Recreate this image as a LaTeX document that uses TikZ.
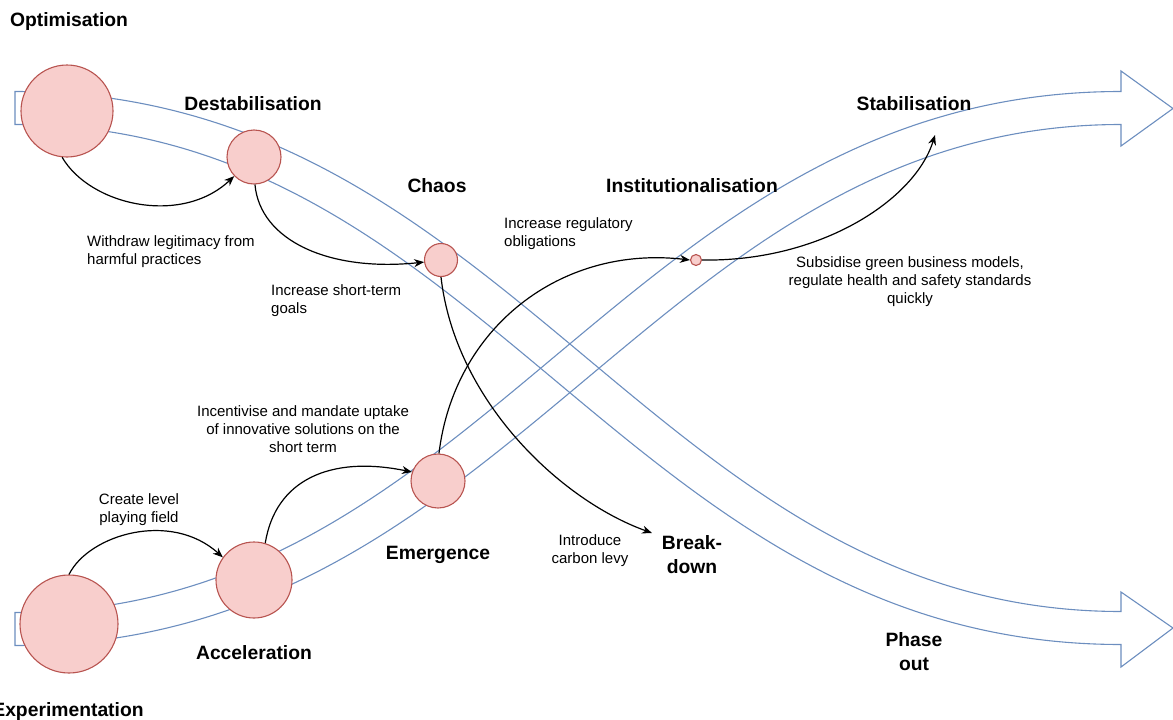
\documentclass[tikz,border=0pt]{standalone}
\usepackage{fontspec}
\setmainfont{Liberation Sans}
\usetikzlibrary{arrows.meta}
\definecolor{bandblue}{HTML}{6C8EBF}
\definecolor{circfill}{HTML}{F8CECC}
\definecolor{circdraw}{HTML}{B85450}
\begin{document}
\begin{tikzpicture}[x=1pt,y=-1pt,
  band/.style={draw=bandblue, line width=1.1pt, line join=miter},
  phase/.style={circle, draw=circdraw, fill=circfill, line width=1.1pt, inner sep=0pt},
  conn/.style={draw=black, line width=1.2pt, -{Stealth[length=10pt,width=8pt]}},
  lab/.style={font=\fontsize{15}{18}\selectfont, inner sep=0pt},
  head/.style={font=\fontsize{19.3}{24}\selectfont\bfseries, inner sep=0pt, align=center}]
\useasboundingbox (0,0) rectangle (1173,720);

% band: Optimisation -> Phase out
\draw[band] (15,91.5) .. controls (512.6,91.5) and (652.6,611.5) .. (1121,611.5)
  -- (1121,592) -- (1173,628) -- (1121,667) -- (1121,644.5)
  .. controls (627.4,644.5) and (487.4,124.5) .. (15,124.5) -- cycle;
% band: Experimentation -> Stabilisation
\draw[band] (15,612.5) .. controls (487.4,612.5) and (627.4,91.5) .. (1121,91.5)
  -- (1121,71) -- (1173,108.5) -- (1121,146) -- (1121,124.5)
  .. controls (652.6,124.5) and (512.6,645.5) .. (15,645.5) -- cycle;

% phase circles
\node[phase, minimum size=92pt] (opt) at (67,111) {};
\node[phase, minimum size=54pt] (destab) at (254,157) {};
\node[phase, minimum size=33pt] (chaos) at (441,260) {};
\node[phase, minimum size=98pt] (exper) at (69,624) {};
\node[phase, minimum size=76pt] (accel) at (254,580) {};
\node[phase, minimum size=54pt] (emerg) at (438,481) {};
\node[phase, minimum size=11pt] (inst) at (696,260) {};

% headings
\node[head] (hopt) at (69,22) {Optimisation};
\node[head] (hdestab) at (253,103.5) {Destabilisation};
\node[head] (hchaos) at (437,185.5) {Chaos};
\node[head] (hinst) at (692,185.5) {Institutionalisation};
\node[head] (hstab) at (914,103.5) {Stabilisation};
\node[head] (hemerg) at (438,555) {Emergence};
\node[head] (haccel) at (254,652.5) {Acceleration};
\node[head] (hexper) at (68,711.5) {Experimentation};
\node[head] (hbreak) at (692,554.5) {Break-\\down};
\node[head] (hphase) at (914,651.5) {Phase\\out};

\coordinate (bdin) at (652,533);
\coordinate (stin) at (935,135);

% connectors
\draw[conn] (opt.-96) .. controls +(28,48) and +(-53,50) .. (destab.224);
\draw[conn] (destab.-88) .. controls +(5,56) and +(-95,10) .. (chaos.187);
\draw[conn] (chaos.-90) .. controls +(14,123) and +(-92,-33) .. (bdin);
\draw[conn] (exper.90) .. controls +(20,-40) and +(-52,-47) .. (accel.144);
\draw[conn] (accel.73) .. controls +(10,-63) and +(-82,-17) .. (emerg.161);
\draw[conn] (emerg.88) .. controls +(15,-125) and +(-130,-15) .. (inst.180);
\draw[conn] (inst.0) .. controls +(118,2) and +(-20,65) .. (stin);

% labels
\node[lab, anchor=west, align=left] (lwithdraw) at (87,252) {Withdraw legitimacy from\\harmful practices};
\node[lab, anchor=west, align=left] (lshort) at (271,301) {Increase short-term\\goals};
\node[lab, anchor=west, align=left] (lreg) at (504,234) {Increase regulatory\\obligations};
\node[lab, align=center] (lincent) at (303,429) {Incentivise and mandate uptake\\of innovative solutions on the\\short term};
\node[lab, align=center] (lcreate) at (139,509.5) {Create level\\playing field};
\node[lab, align=center] (lcarbon) at (590,551) {Introduce\\carbon levy};
\node[lab, align=center, fill=white, inner sep=1pt] (lsubs) at (910,282) {Subsidise green business models,\\regulate health and safety standards\\quickly};
\end{tikzpicture}
\end{document}
